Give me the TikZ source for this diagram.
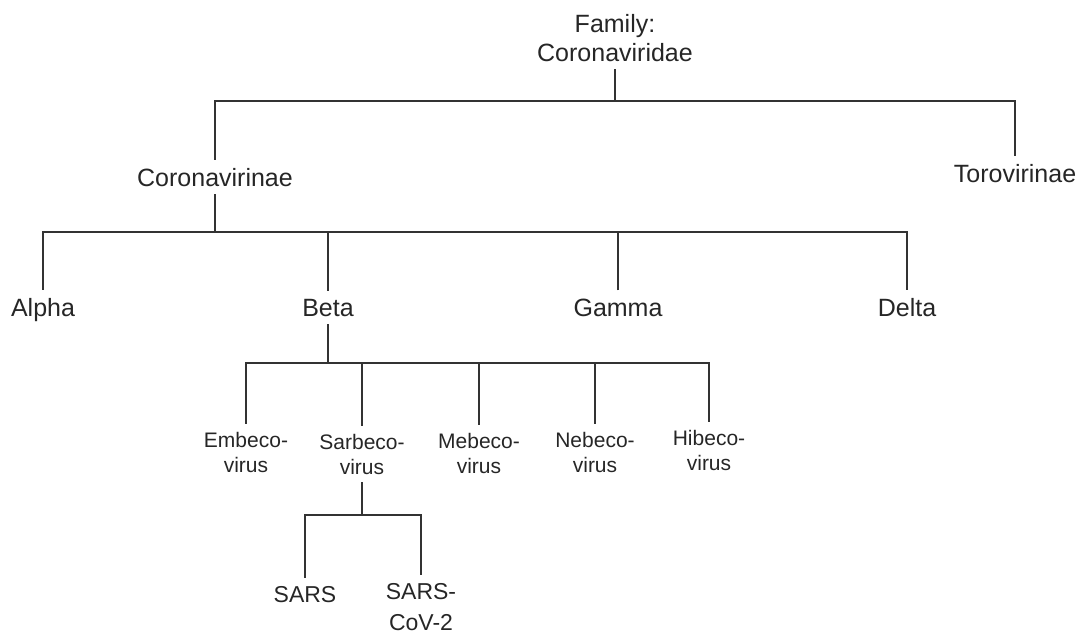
\documentclass[tikz,border=0pt]{standalone}
\usepackage{fontspec}
\setmainfont{Liberation Sans}
\begin{document}
\begin{tikzpicture}[x=1pt,y=-1pt,
  ln/.style={draw=black!80, line width=2.6pt},
  lbl/.style={text=black!85, inner xsep=0pt, inner ysep=8pt, anchor=base, align=center},
  big/.style={lbl, font=\fontsize{25}{29}\selectfont},
  gen/.style={lbl, font=\fontsize{21}{25}\selectfont},
  leaf/.style={lbl, font=\fontsize{23}{31}\selectfont}]
\useasboundingbox (0,0) rectangle (1086,635);
\node[big] (fam) at (615,61) {Family:\\Coronaviridae};
\node[big] (corona) at (215,186) {Coronavirinae};
\node[big] (toro) at (1015,182) {Torovirinae};
\node[big] (alpha) at (43,316) {Alpha};
\node[big] (beta) at (328,316) {Beta};
\node[big] (gamma) at (618,316) {Gamma};
\node[big] (delta) at (907,316) {Delta};
\node[gen] (embeco) at (246,472) {Embeco-\\virus};
\node[gen] (sarbeco) at (362,474) {Sarbeco-\\virus};
\node[gen] (mebeco) at (479,473) {Mebeco-\\virus};
\node[gen] (nebeco) at (595,472) {Nebeco-\\virus};
\node[gen] (hibeco) at (709,470) {Hibeco-\\virus};
\node[leaf] (sars) at (305,602) {SARS};
\node[leaf] (cov) at (421,630) {SARS-\\CoV-2};
\coordinate (b1) at (615,101);
\coordinate (b2) at (215,232);
\coordinate (b3) at (328,363);
\coordinate (b4) at (362,515);
\draw[ln] (fam.south) -- (b1);
\draw[ln] (corona.north) |- (b1) -| (toro.north);
\draw[ln] (corona.south) -- (b2);
\draw[ln] (alpha.north) |- (b2) -| (delta.north);
\draw[ln] (beta.north) -- (beta.north |- b2);
\draw[ln] (gamma.north) -- (gamma.north |- b2);
\draw[ln] (beta.south) -- (b3);
\draw[ln] (embeco.north) |- (b3) -| (hibeco.north);
\draw[ln] (sarbeco.north) -- (sarbeco.north |- b3);
\draw[ln] (mebeco.north) -- (mebeco.north |- b3);
\draw[ln] (nebeco.north) -- (nebeco.north |- b3);
\draw[ln] (sarbeco.south) -- (b4);
\draw[ln] (sars.north) |- (b4) -| (cov.north);
\end{tikzpicture}
\end{document}
